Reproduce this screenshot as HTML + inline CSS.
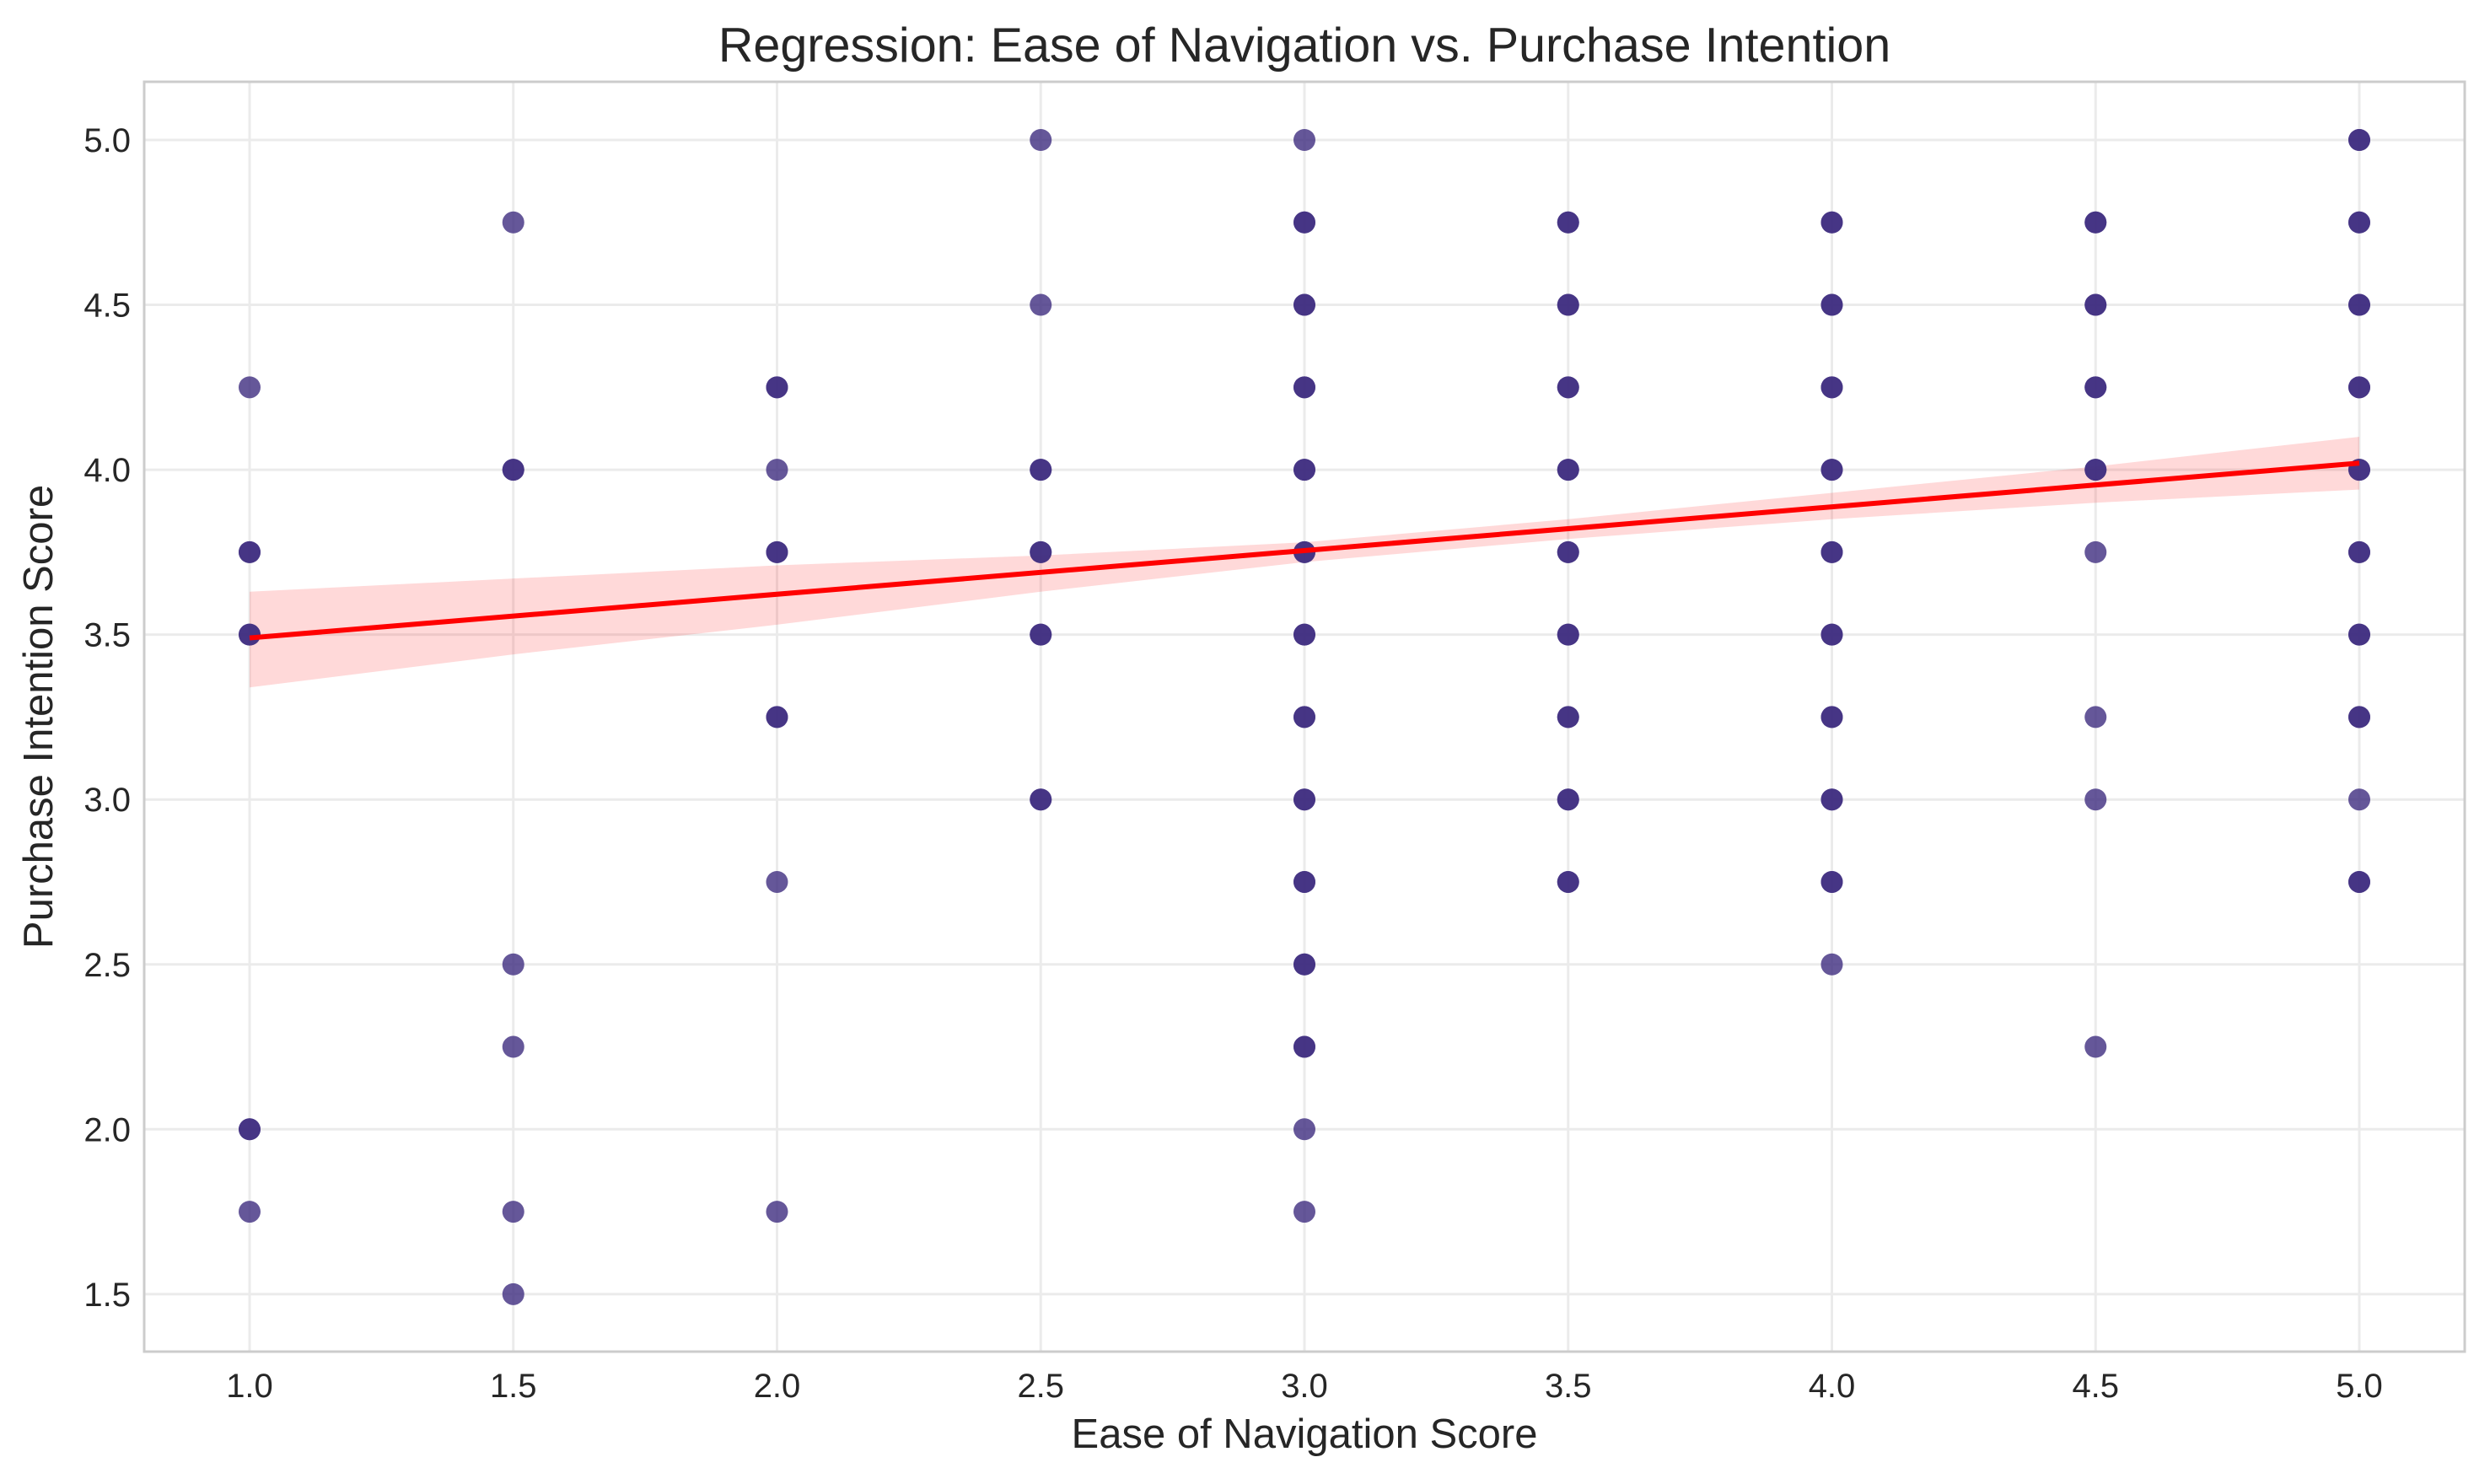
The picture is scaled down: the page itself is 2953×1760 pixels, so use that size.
<!DOCTYPE html>
<html><head><meta charset="utf-8"><style>
html,body{margin:0;padding:0;background:#fff;}
svg text{font-family:"Liberation Sans",Arial,sans-serif;fill:#262626;}
</style></head><body>
<svg id="chart" width="2953" height="1755" xmlns="http://www.w3.org/2000/svg">
<rect x="0" y="0" width="2953" height="1755" fill="#fff"/>
<g id="grid"></g>
<g id="band"></g>
<g id="pts"></g>
<g id="line"></g>
<rect x="171" y="97" width="2752" height="1506" fill="none" stroke="#cccccc" stroke-width="3"/>
<g id="ticks"></g>
<text x="1547" y="73" text-anchor="middle" font-size="57.5">Regression: Ease of Navigation vs. Purchase Intention</text>
<text x="1547" y="1717" text-anchor="middle" font-size="49">Ease of Navigation Score</text>
<text transform="translate(62,850) rotate(-90)" text-anchor="middle" font-size="49">Purchase Intention Score</text>
</svg>
<script>
const xTicks=[1.0,1.5,2.0,2.5,3.0,3.5,4.0,4.5,5.0];
const yTicks=[1.5,2.0,2.5,3.0,3.5,4.0,4.5,5.0];
const colX=[1,1.5,2,2.5,3,3.5,4,4.5,5];
const colY1=[4.25,3.75,3.75,3.5,3.5,2.0,2.0,1.75];
const colY15=[4.75,4.0,4.0,2.5,2.25,1.75,1.5];
const colY2=[4.25,4.25,4.0,3.75,3.75,3.25,3.25,2.75,1.75];
const colY25=[5.0,4.5,4.0,4.0,3.75,3.75,3.5,3.5,3.0,3.0];
const colY3=[5.0,4.75,4.75,4.5,4.5,4.25,4.25,4.0,4.0,3.75,3.75,3.5,3.5,3.25,3.25,3.0,3.0,2.75,2.75,2.5,2.5,2.25,2.25,2.0,1.75];
const colY35=[4.75,4.75,4.5,4.5,4.25,4.25,4.0,4.0,3.75,3.75,3.5,3.5,3.25,3.25,3.0,3.0,2.75,2.75];
const colY4=[4.75,4.75,4.5,4.5,4.25,4.25,4.0,4.0,3.75,3.75,3.5,3.5,3.25,3.25,3.0,3.0,2.75,2.75,2.5];
const colY45=[4.75,4.75,4.5,4.5,4.25,4.25,4.0,4.0,3.75,3.25,3.0,2.25];
const colY5=[5.0,5.0,4.75,4.75,4.5,4.5,4.25,4.25,4.0,4.0,3.75,3.75,3.5,3.5,3.25,3.25,3.0,2.75,2.75];
const colY=[colY1,colY15,colY2,colY25,colY3,colY35,colY4,colY45,colY5];
const fitX=[1,5];
const fitY=[3.49,4.02];
const ciX=[1,1.5,2,2.5,3,3.5,4,4.5,5];
const ciLow=[3.34,3.44,3.53,3.63,3.72,3.79,3.85,3.90,3.94];
const ciHigh=[3.63,3.67,3.71,3.74,3.78,3.85,3.93,4.01,4.10];

const NS='http://www.w3.org/2000/svg';
const sx=v=>296+(v-1)*625.5;
const sy=v=>166+(5-v)*391.1;
function mk(tag,attrs,parent){const e=document.createElementNS(NS,tag);for(const k in attrs)e.setAttribute(k,attrs[k]);parent.appendChild(e);return e;}
const grid=document.getElementById('grid'),ticks=document.getElementById('ticks');
xTicks.forEach(t=>{
  const l=mk('line',{x1:sx(t),x2:sx(t),y1:97,y2:1603,stroke:'#ebebeb','stroke-width':3},grid);
  
  
  const tx=mk('text',{x:sx(t),y:1657,'text-anchor':'middle','font-size':40},ticks);
  tx.textContent=t.toFixed(1);
  
  
});
yTicks.forEach(t=>{
  const l=mk('line',{x1:171,x2:2923,y1:sy(t),y2:sy(t),stroke:'#ebebeb','stroke-width':3},grid);
  
  
  const tx=mk('text',{x:155,y:sy(t)+14,'text-anchor':'end','font-size':40},ticks);
  tx.textContent=t.toFixed(1);
  
  
});
let d='M'+ciX.map((x,i)=>sx(x)+','+sy(ciHigh[i])).join(' L');
for(let i=ciX.length-1;i>=0;i--)d+=' L'+sx(ciX[i])+','+sy(ciLow[i]);
d+=' Z';
const band=mk('path',{d:d,fill:'#ff0000','fill-opacity':0.15},document.getElementById('band'));


const pts=document.getElementById('pts');
colX.forEach((x,ci)=>{
  colY[ci].forEach(y=>{
    const c=mk('circle',{cx:sx(x),cy:sy(y),r:13,fill:'#3f2d7f','fill-opacity':0.8},pts);
    
    
  });
});
const ln=mk('line',{x1:sx(fitX[0]),y1:sy(fitY[0]),x2:sx(fitX[1]),y2:sy(fitY[1]),stroke:'#ff0000','stroke-width':6},document.getElementById('line'));


</script>
</body></html>
